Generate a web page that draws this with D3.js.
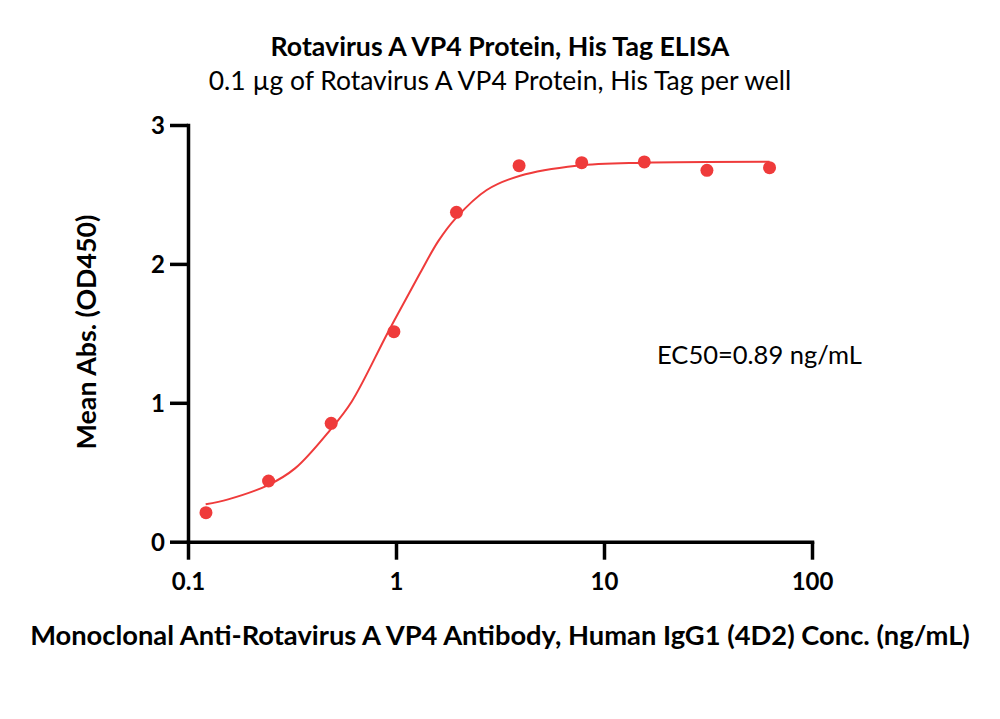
<!DOCTYPE html>
<html>
<head>
<meta charset="utf-8">
<script src="https://cdn.jsdelivr.net/npm/d3@7"></script>
<style>
  html, body { margin: 0; padding: 0; background: #fff; }
  svg { display: block; font-family: Lato, "Open Sans", sans-serif; }
</style>
</head>
<body>
<svg id="chart" width="1000" height="719"></svg>
<script>
// ---- data ----
const concentrations = [0.122, 0.244, 0.488, 0.977, 1.953, 3.906, 7.8125, 15.625, 31.25, 62.5];
const meanAbs = [0.209, 0.437, 0.852, 1.512, 2.371, 2.707, 2.729, 2.734, 2.674, 2.693];
// fitted curve
const curveX = [0.1216, 0.156, 0.243, 0.327, 0.482, 0.612, 0.918, 1.304, 1.597, 1.94, 2.73, 3.95, 7.39, 15.45, 62.5];
const curveY = [0.269, 0.305, 0.408, 0.528, 0.804, 1.008, 1.512, 1.932, 2.164, 2.33, 2.532, 2.635, 2.707, 2.729, 2.736];
const xTicks = [0.1, 1, 10, 100];
const xTickLabels = ["0.1", "1", "10", "100"];
const yTicks = [0, 1, 2, 3];
const titleText = "Rotavirus A VP4 Protein, His Tag ELISA";
const subtitleText = "0.1 µg of Rotavirus A VP4 Protein, His Tag per well";
const xLabelText = "Monoclonal Anti-Rotavirus A VP4 Antibody, Human IgG1 (4D2) Conc. (ng/mL)";
const yLabelText = "Mean Abs. (OD450)";
const ec50Text = "EC50=0.89 ng/mL";

// ---- layout ----
const svg = d3.select("#chart");
const red = "#ef3b3b";
const x = d3.scaleLog().domain([0.1, 100]).range([188, 812]);
const y = d3.scaleLinear().domain([0, 3]).range([541.7, 125]);

function fit(sel, w) {
  const n = sel.node();
  const len = n.getComputedTextLength();
  const fs = parseFloat(sel.attr("font-size"));
  sel.attr("font-size", fs * w / len);
}

// titles
fit(svg.append("text").attr("x", 500).attr("y", 56).attr("text-anchor", "middle")
  .attr("font-size", 20).attr("font-weight", "bold").attr("fill", "#000").text(titleText), 459);
fit(svg.append("text").attr("x", 500).attr("y", 90).attr("text-anchor", "middle")
  .attr("font-size", 20).attr("fill", "#000").text(subtitleText), 583);

// axes
const xAxis = svg.append("g").attr("transform", `translate(0,${y(0)})`)
  .call(d3.axisBottom(x).tickValues(xTicks).tickFormat((d, i) => xTickLabels[i]).tickSize(18).tickSizeOuter(0).tickPadding(13));
const yAxis = svg.append("g").attr("transform", `translate(${x(0.1)},0)`)
  .call(d3.axisLeft(y).tickValues(yTicks).tickFormat(d3.format("d")).tickSize(18).tickSizeOuter(0).tickPadding(5));

[xAxis, yAxis].forEach(g => {
  g.select(".domain").attr("stroke", "#000").attr("stroke-width", 3.5).attr("stroke-linecap", "square");
  g.selectAll(".tick line").attr("stroke", "#000").attr("stroke-width", 3.5);
  g.selectAll(".tick text").attr("fill", "#000").attr("font-size", 24).attr("font-weight", "bold")
    .attr("font-family", "Lato, 'Open Sans', sans-serif");
});
yAxis.selectAll(".tick text").attr("dy", "0.35em");

// axis labels
fit(svg.append("text").attr("x", 500).attr("y", 645).attr("text-anchor", "middle")
  .attr("font-size", 22).attr("font-weight", "bold").attr("fill", "#000").text(xLabelText), 940);
fit(svg.append("text").attr("transform", "translate(96,332) rotate(-90)").attr("text-anchor", "middle")
  .attr("font-size", 22).attr("font-weight", "bold").attr("fill", "#000").text(yLabelText), 235);

// curve
const curvePts = curveX.map((d, i) => [d, curveY[i]]);
svg.append("path").datum(curvePts)
  .attr("fill", "none").attr("stroke", red).attr("stroke-width", 2)
  .attr("d", d3.line().x(d => x(d[0])).y(d => y(d[1])).curve(d3.curveCatmullRom.alpha(0.5)));

// points
svg.append("g").selectAll("circle").data(concentrations).join("circle")
  .attr("cx", d => x(d)).attr("cy", (d, i) => y(meanAbs[i])).attr("r", 6.5).attr("fill", red);

// EC50 annotation
fit(svg.append("text").attr("x", 657).attr("y", 364).attr("font-size", 20).attr("fill", "#000").text(ec50Text), 205);
</script>
</body>
</html>
